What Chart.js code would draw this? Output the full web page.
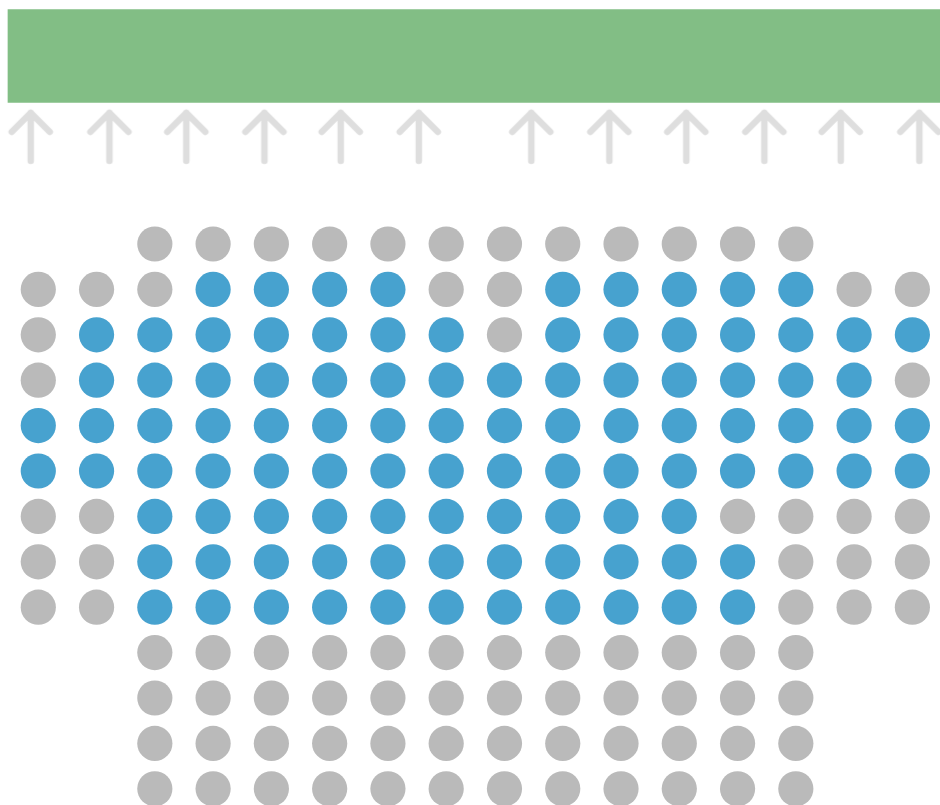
<!DOCTYPE html>
<html>
<head>
<meta charset="utf-8">
<script src="https://cdn.jsdelivr.net/npm/chart.js@4.4.1/dist/chart.umd.min.js"></script>
<style>
  html, body { margin: 0; padding: 0; background: #fff; }
  canvas { display: block; }
</style>
</head>
<body>
<canvas id="seats" width="940" height="805"></canvas>
<script>
// seat map, one string per row (B = taken, G = free, . = no seat)
const seatRows = [
  "..GGGGGGGGGGGG..",
  "GGGBBBBGGBBBBBGG",
  "GBBBBBBBGBBBBBBB",
  "GBBBBBBBBBBBBBBG",
  "BBBBBBBBBBBBBBBB",
  "BBBBBBBBBBBBBBBB",
  "GGBBBBBBBBBBGGGG",
  "GGBBBBBBBBBBBGGG",
  "GGBBBBBBBBBBBGGG",
  "..GGGGGGGGGGGG..",
  "..GGGGGGGGGGGG..",
  "..GGGGGGGGGGGG..",
  "..GGGGGGGGGGGG.."
];
// arrows pointing at the stage (column units, row units)
const arrowCols = [-0.13, 1.22, 2.54, 3.88, 5.19, 6.53, 8.46, 9.80, 11.12, 12.46, 13.77, 15.12];
const arrowRow = -2.36;
// stage (green band)
const stageCols = [-0.52, 16];
const stageRow = -4.14;

//build point lists
let taken = [], free = [];
seatRows.forEach(function(row, r) {
  row.split("").forEach(function(ch, c) {
    if (ch === "B") taken.push({x: c, y: r});
    if (ch === "G") free.push({x: c, y: r});
  });
});
let arrows = arrowCols.map(function(c) { return {x: c, y: arrowRow}; });

// arrow glyph used as point style
function arrowIcon() {
  let cv = document.createElement("canvas");
  cv.width = 52; cv.height = 62;
  let ctx = cv.getContext("2d");
  ctx.strokeStyle = "#dedede";
  ctx.lineWidth = 6.5;
  ctx.lineCap = "round";
  ctx.lineJoin = "round";
  ctx.beginPath();
  ctx.moveTo(26, 7); ctx.lineTo(26, 55);
  ctx.moveTo(7, 26); ctx.lineTo(26, 7); ctx.lineTo(45, 26);
  ctx.stroke();
  return cv;
}

new Chart(document.getElementById("seats"), {
  type: "scatter",
  data: {
    datasets: [
      {
        type: "bar",
        indexAxis: "y",
        data: [{x: stageCols, y: stageRow}],
        backgroundColor: "#82be85",
        borderWidth: 0,
        barThickness: 93
      },
      {
        data: arrows,
        pointStyle: arrowIcon(),
        pointRadius: 26
      },
      {
        data: free,
        backgroundColor: "#bababa",
        borderWidth: 0,
        pointRadius: 17.6
      },
      {
        data: taken,
        backgroundColor: "#47a2cf",
        borderWidth: 0,
        pointRadius: 17.6
      }
    ]
  },
  options: {
    responsive: false,
    animation: false,
    devicePixelRatio: 1,
    layout: { padding: 0, autoPadding: false },
    plugins: { legend: { display: false }, tooltip: { enabled: false } },
    scales: {
      x: { type: "linear", display: false, offset: false, min: -0.657, max: 15.474 },
      y: { type: "linear", display: false, offset: false, min: -5.374, max: 12.357, reverse: true }
    }
  }
});
</script>
</body>
</html>
